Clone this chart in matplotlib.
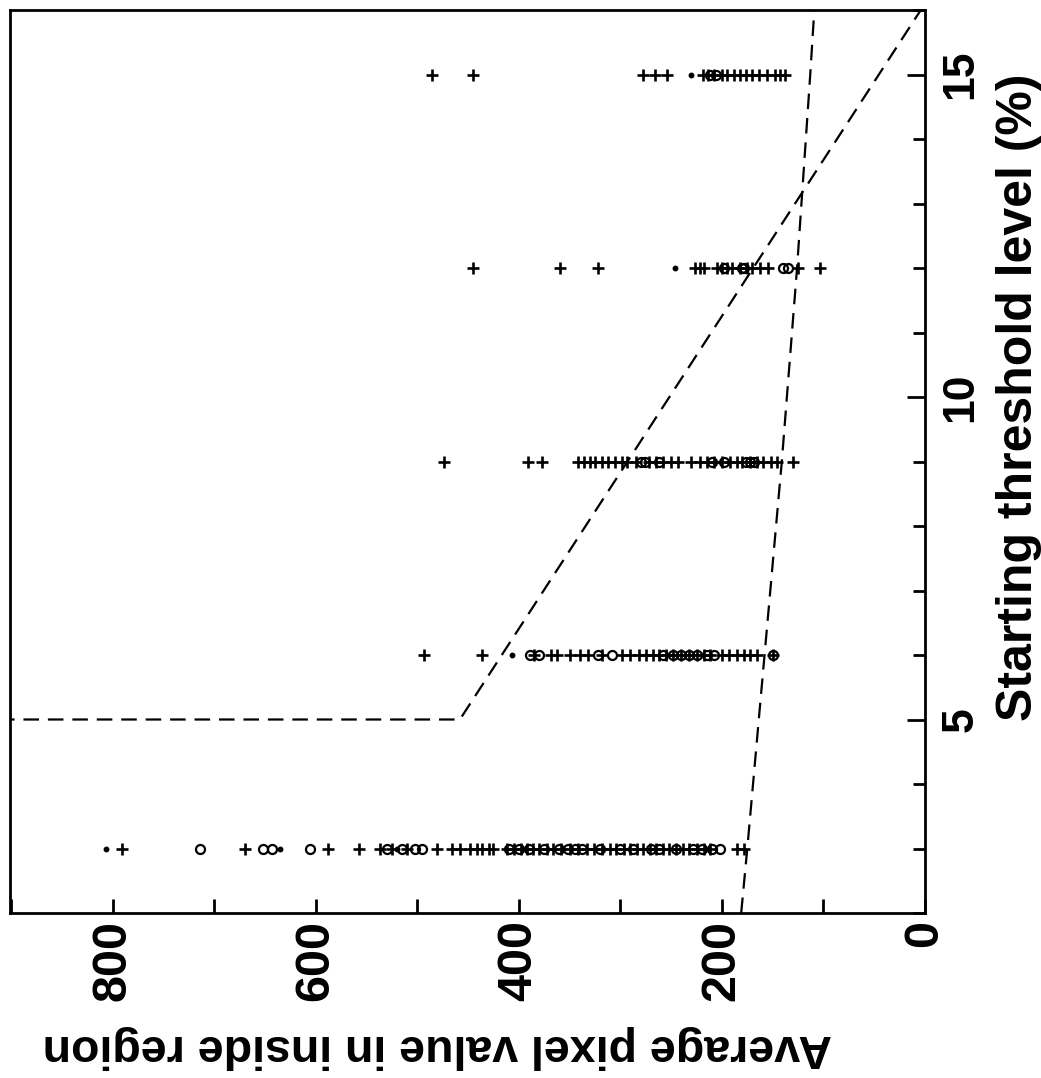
import matplotlib
matplotlib.use("Agg")
import matplotlib.pyplot as plt
from matplotlib.ticker import MultipleLocator, FixedLocator

plt.rcParams['font.family'] = ['Liberation Sans', 'DejaVu Sans']

# ---- data (threshold % -> average pixel values) ----
thresholds = [3, 6, 9, 12, 15]

plus_t3 = [791, 670, 588, 557, 537, 525, 510, 481, 466, 458, 448, 441, 436, 429, 425,
           412, 405, 398, 392, 386, 380, 372, 366, 358, 350, 342, 333, 326, 318, 310,
           304, 296, 290, 284, 278, 271, 265, 258, 252, 245, 238, 232, 225, 218, 212,
           185, 178]
circ_t3 = [714, 652, 643, 606, 530, 515, 502, 495, 410, 400, 390, 375, 360, 352, 345,
           338, 320, 300, 288, 270, 262, 245, 228, 220, 210, 202]
dot_t3 = [806, 635, 520]

plus_t6 = [493, 436, 385, 368, 362, 350, 340, 332, 318, 298, 290, 282, 275, 268, 262,
           255, 248, 240, 232, 225, 218, 212, 200, 193, 185, 178, 172, 165, 150]
circ_t6 = [389, 380, 322, 308, 258, 248, 240, 232, 225, 215, 208, 150]
dot_t6 = [407]

plus_t9 = [474, 391, 377, 342, 336, 330, 325, 318, 312, 305, 298, 293, 285, 272, 265,
           258, 250, 243, 230, 222, 215, 208, 200, 192, 185, 180, 172, 165, 160, 152,
           146, 130]
circ_t9 = [280, 276, 262, 210, 198, 176, 172, 168]
dot_t9 = []

plus_t12 = [445, 359, 322, 226, 222, 218, 205, 200, 195, 190, 182, 175, 170, 162, 155,
            125, 103]
circ_t12 = [198, 180, 178, 140, 135]
dot_t12 = [246]

plus_t15 = [485, 445, 278, 266, 254, 219, 214, 208, 200, 195, 188, 182, 176, 170, 163,
            156, 148, 143, 138]
circ_t15 = [212, 206]
dot_t15 = [230]

plus_sets = [plus_t3, plus_t6, plus_t9, plus_t12, plus_t15]
circ_sets = [circ_t3, circ_t6, circ_t9, circ_t12, circ_t15]
dot_sets = [dot_t3, dot_t6, dot_t9, dot_t12, dot_t15]

# dashed curves
line1_thr = [5, 5, 16.1]
line1_pix = [1000, 458, 0]
line2_thr = [2, 3, 6, 9, 12, 15, 16]
line2_pix = [181, 175, 158, 141, 126, 113, 109]

x_major = [0, 200, 400, 600, 800]
y_major = [5, 10, 15]

# ---- figure ----
fig = plt.figure(figsize=(10.41, 10.78), dpi=100)
ax = fig.add_axes([10/1041, 1-913/1078, 915/1041, 903/1078])

for t, ps, cs, ds in zip(thresholds, plus_sets, circ_sets, dot_sets):
    ax.plot(ps, [t]*len(ps), linestyle='none', marker='+', color='black',
            markersize=8, markeredgewidth=1.9)
    ax.plot(cs, [t]*len(cs), linestyle='none', marker='o', markerfacecolor='none',
            markeredgecolor='black', markersize=6.5, markeredgewidth=1.6)
    if ds:
        ax.plot(ds, [t]*len(ds), linestyle='none', marker='o', color='black',
                markersize=3.2)

ax.plot(line1_pix, line1_thr, color='black', linewidth=1.6, dashes=(7, 4))
ax.plot(line2_pix, line2_thr, color='black', linewidth=1.6, dashes=(7, 4))

ax.set_xlim(901, 0)
ax.set_ylim(2, 16)

ax.xaxis.set_major_locator(FixedLocator(x_major))
ax.xaxis.set_minor_locator(MultipleLocator(100))
ax.yaxis.set_major_locator(FixedLocator(y_major))
ax.yaxis.set_minor_locator(MultipleLocator(1))

ax.yaxis.tick_right()
ax.yaxis.set_label_position('right')

for s in ax.spines.values():
    s.set_linewidth(2)

ax.tick_params(axis='x', which='both', direction='in', width=2, labelsize=35,
               pad=5, labelrotation=90, length=10)
ax.tick_params(axis='y', which='both', direction='in', width=2, labelsize=32,
               pad=11, labelrotation=90, left=False, right=True)
ax.tick_params(axis='y', which='major', length=13)
ax.tick_params(axis='y', which='minor', length=9)

for lab in ax.get_xticklabels():
    lab.set_fontweight('bold')
for lab in ax.get_yticklabels():
    lab.set_fontweight('bold')
    lab.set_va('center')

ax.set_xlabel('Average pixel value in inside region', fontsize=33.5, fontweight='bold',
              rotation=180)
ax.xaxis.set_label_coords(0.467, -0.124)
ax.set_ylabel('Starting threshold level (%)', fontsize=36, fontweight='bold',
              rotation=90)
ax.yaxis.set_label_coords(1.078, 0.571)

fig.savefig('out.png', dpi=100)
